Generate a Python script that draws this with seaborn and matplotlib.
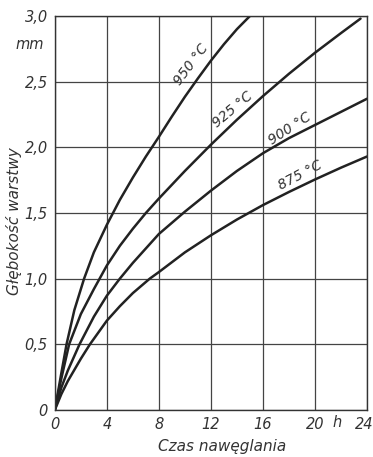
import matplotlib
matplotlib.use("Agg")
import matplotlib.pyplot as plt
import matplotlib.transforms as mtransforms
import pandas as pd
import seaborn as sns

# values (time in h, depth in mm)
t_950 = [0, 0.25, 0.5, 0.9, 1.5, 2.25, 3, 4, 5, 6, 7, 8, 9, 10, 11, 12, 13, 14, 15]
d_950 = [0, 0.14, 0.28, 0.50, 0.76, 1.0, 1.20, 1.41, 1.60, 1.77, 1.93, 2.08, 2.235, 2.385, 2.525, 2.66, 2.785, 2.90, 3.0]

t_925 = [0, 0.5, 1.1, 2, 3, 4, 5, 6, 7, 8, 10, 12, 14, 16, 18, 20, 22, 23.5]
d_925 = [0, 0.24, 0.50, 0.73, 0.92, 1.10, 1.25, 1.38, 1.50, 1.61, 1.82, 2.02, 2.21, 2.39, 2.56, 2.72, 2.87, 2.98]

t_900 = [0, 0.5, 1, 1.9, 3, 4, 5, 6, 7, 8, 10, 12, 14, 16, 18, 20, 22, 24]
d_900 = [0, 0.17, 0.30, 0.50, 0.71, 0.87, 1.0, 1.12, 1.23, 1.34, 1.51, 1.67, 1.82, 1.955, 2.07, 2.17, 2.27, 2.37]

t_875 = [0, 0.5, 1, 2, 2.7, 4, 5, 6, 7.3, 8, 10, 12, 14, 16, 18, 20, 22, 24]
d_875 = [0, 0.12, 0.22, 0.39, 0.50, 0.68, 0.79, 0.89, 1.0, 1.05, 1.20, 1.33, 1.45, 1.56, 1.66, 1.755, 1.845, 1.93]

labels = ["950 °C", "925 °C", "900 °C", "875 °C"]
x_ticks = [0, 4, 8, 12, 16, 20, 24]
y_ticks = [0, 0.5, 1.0, 1.5, 2.0, 2.5, 3.0]
y_tick_labels = ["0", "0,5", "1,0", "1,5", "2,0", "2,5", "3,0"]

frames = []
for lab, t, d in zip(labels, [t_950, t_925, t_900, t_875], [d_950, d_925, d_900, d_875]):
    frames.append(pd.DataFrame({"t": t, "d": d, "temp": lab}))
df = pd.concat(frames, ignore_index=True)

sns.set_style("white")
plt.rcParams['font.family'] = ['DejaVu Sans']
plt.rcParams['font.style'] = 'italic'

fig = plt.figure(figsize=(3.73, 4.57), dpi=100)
ax = fig.add_axes([0.147, 0.103, 0.837, 0.862])

sns.lineplot(data=df, x="t", y="d", hue="temp", palette=["#222222"] * 4,
             linewidth=1.8, legend=False, ax=ax, sort=False)

ax.set_xlim(0, 24)
ax.set_ylim(0, 3.0)
ax.set_xticks(x_ticks)
ax.set_xticklabels([str(v) for v in x_ticks], fontsize=10.5, color="#333333")
ax.set_yticks(y_ticks)
ax.set_yticklabels(y_tick_labels, fontsize=10.5, color="#333333")
ax.tick_params(length=0, pad=5)
ax.grid(True, color="#444444", linewidth=0.9)
for s in ax.spines.values():
    s.set_color("#333333")
    s.set_linewidth(1.0)

# keep the last x label inside the figure
last = ax.get_xticklabels()[-1]
last.set_horizontalalignment("right")
last.set_transform(last.get_transform() + mtransforms.ScaledTranslation(0.06, 0, fig.dpi_scale_trans))

ax.set_xlabel("Czas nawęglania", fontsize=11, color="#333333")
ax.xaxis.set_label_coords(0.535, -0.075)
ax.set_ylabel("Głębokość warstwy", fontsize=11, color="#333333")
ax.yaxis.set_label_coords(-0.105, 0.48)

# unit labels
ax.text(-0.035, 2.78, "mm", ha="right", va="center", fontsize=10.5, color="#333333",
        transform=mtransforms.blended_transform_factory(ax.transAxes, ax.transData))
ax.text(21.7, -0.014, "h", ha="center", va="top", fontsize=10.5, color="#333333",
        transform=mtransforms.blended_transform_factory(ax.transData, ax.transAxes))

# curve labels
label_pos = [(10.5, 2.63, 53), (13.7, 2.29, 40), (18.1, 2.14, 33), (18.9, 1.79, 28)]
for lab, (x, y, rot) in zip(labels, label_pos):
    ax.text(x, y, lab, rotation=rot, ha="center", va="center", fontsize=10,
            color="#333333", rotation_mode="anchor")

fig.savefig("out.png", dpi=100)
